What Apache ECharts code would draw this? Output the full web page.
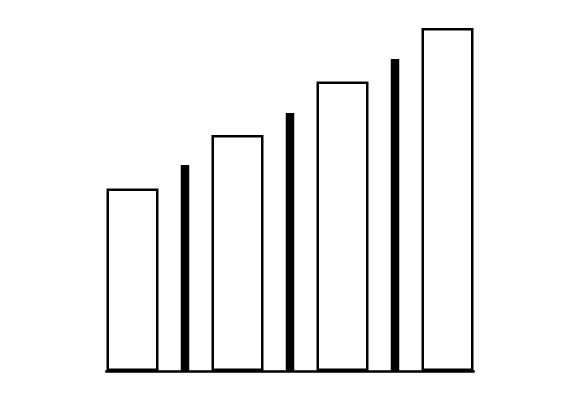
<!DOCTYPE html>
<html>
<head>
<meta charset="utf-8">
<script src="https://cdn.jsdelivr.net/npm/echarts@6/dist/echarts.min.js"></script>
<style>
html,body{margin:0;padding:0;background:#fff;}
#chart{width:580px;height:400px;}
</style>
</head>
<body>
<div id="chart"></div>
<script>
var categories = ['A', 'B', 'C', 'D', 'E', 'F', 'G'];
var wideValues = [182.5, '-', 236, '-', 289.5, '-', 343];
var thinValues = ['-', 206, '-', 258, '-', 312, '-'];

var chart = echarts.init(document.getElementById('chart'));
var option = {
    animation: false,
    backgroundColor: '#fff',
    grid: {
        left: 106.25,
        right: 106.25,
        top: 21,
        bottom: 29
    },
    xAxis: [
        {
            type: 'category',
            data: categories,
            axisLine: {lineStyle: {color: '#000', width: 2.5}},
            axisTick: {show: false},
            axisLabel: {show: false},
            splitLine: {show: false}
        },
        {
            type: 'category',
            data: categories,
            show: false
        }
    ],
    yAxis: {
        type: 'value',
        min: 0,
        max: 350,
        show: false
    },
    series: [
        {
            name: 'wide',
            type: 'bar',
            xAxisIndex: 0,
            barWidth: 52,
            data: wideValues,
            itemStyle: {
                color: '#fff',
                borderColor: '#000',
                borderWidth: 2.5
            }
        },
        {
            name: 'thin',
            type: 'bar',
            xAxisIndex: 1,
            barWidth: 8.5,
            data: thinValues,
            itemStyle: {
                color: '#000'
            }
        }
    ]
};
chart.setOption(option);
</script>
</body>
</html>
